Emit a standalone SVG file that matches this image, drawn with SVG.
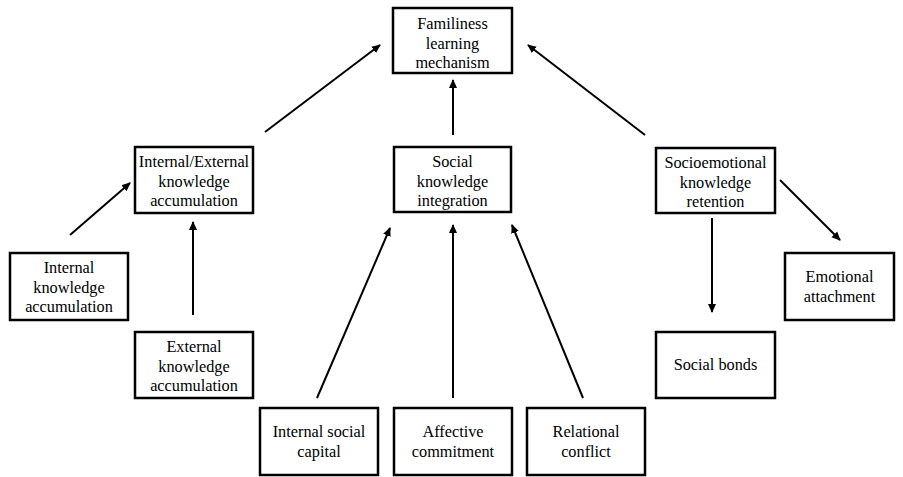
<svg xmlns="http://www.w3.org/2000/svg" width="903" height="477" viewBox="0 0 903 477">
<style>
.box{fill:#fff;stroke:#000;stroke-width:2.5}
.t{font-size:16.3px;fill:#000;text-anchor:middle}
.c line{stroke:#000;stroke-width:2;marker-end:url(#ah)}
</style>
<defs>
<marker id="ah" markerWidth="10" markerHeight="10" refX="8" refY="5" orient="auto" markerUnits="userSpaceOnUse">
<path d="M0,1 L9,5 L0,9 Z" fill="#000"/>
</marker>
</defs>
<rect width="903" height="477" fill="#fff"/>
<g font-family="Liberation Serif">
<g id="familiness"><rect class="box" x="393" y="8" width="119" height="65"/>
<text class="t" x="452.5" y="29">Familiness</text><text class="t" x="452.5" y="48.5">learning</text><text class="t" x="452.5" y="68">mechanism</text></g>
<g id="ie"><rect class="box" x="135" y="147" width="118" height="66"/>
<text class="t" x="194" y="167">Internal/External</text><text class="t" x="194" y="186.5">knowledge</text><text class="t" x="194" y="206">accumulation</text></g>
<g id="ski"><rect class="box" x="394" y="147" width="117" height="65"/>
<text class="t" x="452.5" y="167">Social</text><text class="t" x="452.5" y="186.5">knowledge</text><text class="t" x="452.5" y="206">integration</text></g>
<g id="skr"><rect class="box" x="656" y="148" width="119" height="65"/>
<text class="t" x="715.5" y="168">Socioemotional</text><text class="t" x="715.5" y="187.5">knowledge</text><text class="t" x="715.5" y="207">retention</text></g>
<g id="ika"><rect class="box" x="10" y="253" width="118" height="67"/>
<text class="t" x="69" y="273">Internal</text><text class="t" x="69" y="292.5">knowledge</text><text class="t" x="69" y="312">accumulation</text></g>
<g id="eka"><rect class="box" x="135" y="332" width="118" height="66"/>
<text class="t" x="194" y="352">External</text><text class="t" x="194" y="371.5">knowledge</text><text class="t" x="194" y="391">accumulation</text></g>
<g id="ea"><rect class="box" x="785" y="253" width="109" height="67"/>
<text class="t" x="839.5" y="282">Emotional</text><text class="t" x="839.5" y="301.5">attachment</text></g>
<g id="sb"><rect class="box" x="656" y="332" width="119" height="66"/>
<text class="t" x="715.5" y="370">Social bonds</text></g>
<g id="isc"><rect class="box" x="260" y="408" width="118" height="67"/>
<text class="t" x="319" y="437">Internal social</text><text class="t" x="319" y="456.5">capital</text></g>
<g id="ac"><rect class="box" x="394" y="408" width="118" height="67"/>
<text class="t" x="453" y="437">Affective</text><text class="t" x="453" y="456.5">commitment</text></g>
<g id="rc"><rect class="box" x="527" y="408" width="118" height="67"/>
<text class="t" x="586" y="437">Relational</text><text class="t" x="586" y="456.5">conflict</text></g>
</g>
<g class="c" id="connectors">
<line x1="265" y1="132" x2="380" y2="45"/>
<line x1="453" y1="135" x2="453" y2="80"/>
<line x1="645" y1="135" x2="528" y2="45"/>
<line x1="70" y1="235" x2="130" y2="183"/>
<line x1="193" y1="315" x2="193" y2="222"/>
<line x1="317" y1="398" x2="390" y2="228"/>
<line x1="453" y1="398" x2="453" y2="225"/>
<line x1="583" y1="398" x2="512" y2="225"/>
<line x1="712" y1="218" x2="712" y2="312"/>
<line x1="780" y1="180" x2="840" y2="240"/>
</g>
</svg>
